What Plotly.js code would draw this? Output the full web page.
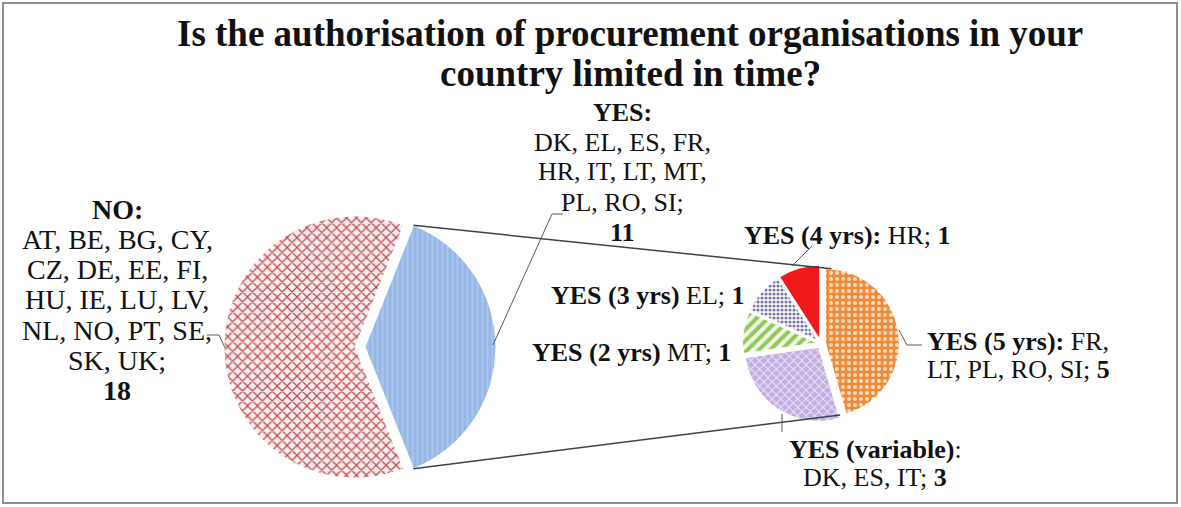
<!DOCTYPE html>
<html>
<head>
<meta charset="utf-8">
<script src="https://cdn.plot.ly/plotly-3.0.1.min.js"></script>
<style>html,body{margin:0;padding:0;background:#fff;}#chart{width:1181px;height:507px;}</style>
</head>
<body>
<div id="chart"></div>
<script>
// ---------------- data ----------------
const titleLines = ['Is the authorisation of procurement organisations in your', 'country limited in time?'];
const mainLabels = ['YES', 'NO'];
const mainValues = [11, 18];
const mainCountries = [
  ['DK, EL, ES, FR,', 'HR, IT, LT, MT,', 'PL, RO, SI;'],
  ['AT, BE, BG, CY,', 'CZ, DE, EE, FI,', 'HU, IE, LU, LV,', 'NL, NO, PT, SE,', 'SK, UK;']
];
const subLabels = ['YES (5 yrs):', 'YES (variable)', 'YES (2 yrs)', 'YES (3 yrs)', 'YES (4 yrs):'];
const subValues = [5, 3, 1, 1, 1];
const subCountries = ['FR, LT, PL, RO, SI', 'DK, ES, IT', 'MT', 'EL', 'HR'];

// ---------------- geometry / style ----------------
const W = 1181, H = 507;
const fx = x => x / W, fy = y => 1 - y / H;
const FONT = "'Liberation Serif', 'Times New Roman', serif";

const L = {cx: 355, cy: 347, r: 131, pullPx: 10};
const Rp = {cx: 821, cy: 343.5, r: 74, pull: 0.06};
const lPull = L.pullPx / L.r;

function domainFor(cx, cy, r, pull) {
  const half = r * (1 + pull);
  return {x: [fx(cx - half), fx(cx + half)], y: [fy(cy + half), fy(cy - half)]};
}

const total = mainValues.reduce((a, b) => a + b, 0);
const halfYes = Math.PI * mainValues[0] / total; // half angle of YES slice (radians)
const rotationDeg = 90 - halfYes * 180 / Math.PI;

const mainTrace = {
  type: 'pie', labels: mainLabels, values: mainValues, sort: false,
  direction: 'clockwise', rotation: rotationDeg,
  pull: [lPull, 0],
  domain: domainFor(L.cx, L.cy, L.r, lPull),
  textinfo: 'none', hoverinfo: 'label+value', showlegend: false,
  marker: {
    colors: ['#9ab8e6', '#ffffff'],
    line: {color: '#ffffff', width: 1},
    pattern: {
      shape: ['|', 'x'],
      bgcolor: ['#98b6e5', '#fcefef'],
      fgcolor: ['#aac5ee', '#c0474c'],
      size: [5, 7], solidity: [0.4, 0.32]
    }
  }
};

const subTrace = {
  type: 'pie', labels: subLabels, values: subValues, sort: false,
  direction: 'clockwise', rotation: 0,
  pull: subValues.map(() => Rp.pull),
  domain: domainFor(Rp.cx, Rp.cy, Rp.r, Rp.pull),
  textinfo: 'none', hoverinfo: 'label+value', showlegend: false,
  marker: {
    colors: ['#ef8c3e', '#c2afe3', '#c9e6a8', '#d8d4ea', '#f01818'],
    line: {color: '#ffffff', width: 1},
    pattern: {
      shape: ['.', 'x', '/', '.', ''],
      bgcolor: ['#ee8a3a', '#c0ade2', '#f2f9ea', '#ffffff', '#f01818'],
      fgcolor: ['#fcdcbc', '#ece6f7', '#8fca58', '#7d76ae', '#f01818'],
      size: [6, 6, 8, 4, 6], solidity: [0.35, 0.3, 0.5, 0.5, 0.3]
    }
  }
};

// connector lines (from YES slice corners of main pie to the sub pie)
const yesTop = [L.cx + L.pullPx + L.r * Math.cos(halfYes), L.cy - L.r * Math.sin(halfYes)];
const yesBot = [L.cx + L.pullPx + L.r * Math.cos(halfYes), L.cy + L.r * Math.sin(halfYes)];
const subTop = [Rp.cx + Rp.r * Math.cos(85 * Math.PI / 180) + 4, Rp.cy - Rp.r * Math.sin(85 * Math.PI / 180) - 1];
const subBot = [Rp.cx + Rp.r * Math.cos(-75 * Math.PI / 180), Rp.cy - Rp.r * Math.sin(-75 * Math.PI / 180)];

function pathPx(pts) {
  return pts.map((p, i) => (i ? 'L' : 'M') + fx(p[0]).toFixed(5) + ',' + fy(p[1]).toFixed(5)).join(' ');
}
const shapes = [
  {type: 'rect', xref: 'paper', yref: 'paper', x0: fx(3), x1: fx(1177), y0: fy(503), y1: fy(3),
   line: {color: '#8e8e8e', width: 2}, fillcolor: 'rgba(0,0,0,0)'},
  {type: 'path', xref: 'paper', yref: 'paper', path: pathPx([yesTop, subTop]), line: {color: '#404040', width: 1.5}},
  {type: 'path', xref: 'paper', yref: 'paper', path: pathPx([yesBot, subBot]), line: {color: '#404040', width: 1.5}},
  // leader lines
  {type: 'path', xref: 'paper', yref: 'paper', path: pathPx([[207, 335], [219, 335], [225, 348]]), line: {color: '#595959', width: 1}},
  {type: 'path', xref: 'paper', yref: 'paper', path: pathPx([[563, 214], [552, 214], [493, 345]]), line: {color: '#595959', width: 1}},
  {type: 'path', xref: 'paper', yref: 'paper', path: pathPx([[812, 246], [792, 266]]), line: {color: '#595959', width: 1}},
  {type: 'path', xref: 'paper', yref: 'paper', path: pathPx([[899, 330], [907, 345], [922, 345]]), line: {color: '#595959', width: 1}},
  {type: 'path', xref: 'paper', yref: 'paper', path: pathPx([[782, 414], [782, 432]]), line: {color: '#595959', width: 1}}
];

// annotations (title + data labels)
const annotations = [];
function addLines(lines, cx, y0, dy, size, anchor) {
  lines.forEach((t, i) => annotations.push({
    xref: 'paper', yref: 'paper', x: fx(cx), y: fy(y0 + i * dy), text: t,
    showarrow: false, xanchor: anchor || 'center', yanchor: 'middle',
    font: {family: FONT, size: size, color: '#111'}
  }));
}
addLines(titleLines.map(t => '<b>' + t + '</b>'), 630, 33, 40, 37);
addLines(['<b>' + mainLabels[1] + ':</b>'].concat(mainCountries[1], ['<b>' + mainValues[1] + '</b>']), 117, 209, 30.3, 28);
addLines(['<b>' + mainLabels[0] + ':</b>'].concat(mainCountries[0], ['<b>' + mainValues[0] + '</b>']), 622, 112, 30, 26);
addLines(['<b>' + subLabels[4] + '</b> ' + subCountries[4] + '; <b>' + subValues[4] + '</b>'], 742, 236, 0, 26, 'left');
addLines(['<b>' + subLabels[3] + '</b> ' + subCountries[3] + '; <b>' + subValues[3] + '</b>'], 648, 295, 0, 26);
addLines(['<b>' + subLabels[2] + '</b> ' + subCountries[2] + '; <b>' + subValues[2] + '</b>'], 631, 352, 0, 26);
addLines(['<b>' + subLabels[0] + '</b> FR,', 'LT, PL, RO, SI; <b>' + subValues[0] + '</b>'], 1018, 341, 28.5, 26);
addLines(['<b>' + subLabels[1] + '</b>:', subCountries[1] + '; <b>' + subValues[1] + '</b>'], 875, 449, 28, 26);

const layout = {
  width: W, height: H,
  margin: {l: 0, r: 0, t: 0, b: 0},
  paper_bgcolor: '#ffffff',
  shapes: shapes,
  annotations: annotations,
  showlegend: false
};

Plotly.newPlot('chart', [mainTrace, subTrace], layout, {displayModeBar: false, staticPlot: true});
</script>
</body>
</html>
